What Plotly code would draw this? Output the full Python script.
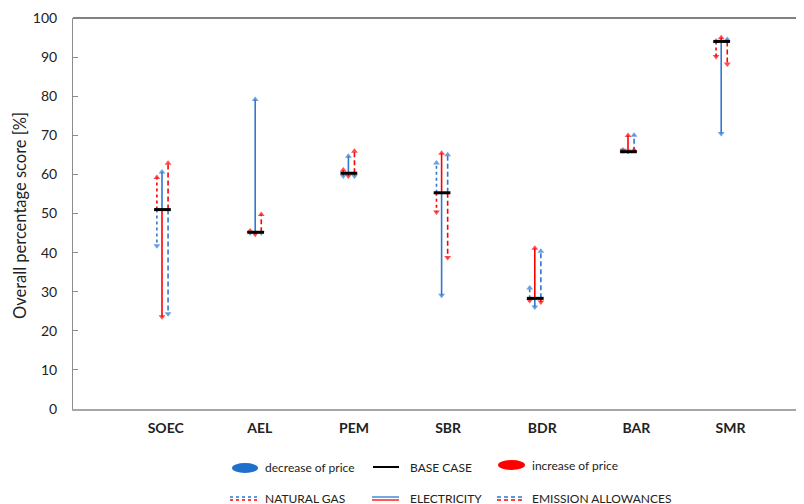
import plotly.graph_objects as go

# ---------------- data ----------------
categories = ["SOEC", "AEL", "PEM", "SBR", "BDR", "BAR", "SMR"]
label_x = [1.04, 2.05, 3.06, 4.07, 5.08, 6.09, 7.10]   # category label positions
base_case = [51.0, 45.2, 60.3, 55.3, 28.3, 65.8, 94.0]

# natural gas (dotted)
gas_increase = [60.0, 46.3, 61.9, 49.6, 27.0, 65.4, 89.4]
gas_decrease = [41.0, 44.3, 58.8, 63.7, 31.7, 67.0, 94.9]
# electricity (solid)
elec_increase = [22.8, 43.9, 58.8, 66.2, 41.9, 70.7, 95.7]
elec_decrease = [61.4, 79.9, 65.4, 28.3, 25.3, 65.3, 69.7]
# emission allowances (dashed)
ems_increase = [63.6, 50.5, 66.7, 38.0, 26.6, 67.0, 87.5]
ems_decrease = [23.6, 44.3, 58.8, 65.8, 41.1, 70.8, 95.3]

y_ticks = [0, 10, 20, 30, 40, 50, 60, 70, 80, 90, 100]

# ---------------- layout constants ----------------
OFF = 8  # page body margin in the browser
W, H = 804 - OFF, 504 - OFF
ML, MR, MT, MB = 73 - OFF, 0, 18 - OFF, 95
PW, PH = W - ML - MR, H - MT - MB
BLUE = "#2E78D2"
RED = "#FF0000"
FONT = "Lato"

xpos = list(range(1, len(categories) + 1))

fig = go.Figure()

params = [
    ("dot", -0.055, gas_increase, gas_decrease),
    ("solid", 0.0, elec_increase, elec_decrease),
    ("5px,3px", 0.065, ems_increase, ems_decrease),
]

for dash, off, inc, dec in params:
    for vals, color in ((dec, BLUE), (inc, RED)):
        for c, b, v in zip(xpos, base_case, vals):
            fig.add_trace(go.Scatter(
                x=[c + off, c + off], y=[b, v],
                mode="lines+markers",
                line=dict(color=color, width=1.6, dash=dash),
                marker=dict(symbol="triangle-up", size=[0, 6], color=color,
                            angleref="previous", standoff=3, line=dict(width=0)),
                hoverinfo="skip", showlegend=False,
            ))

# base case lines
bx, by = [], []
for c, b in zip(xpos, base_case):
    bx += [c - 0.085, c + 0.095, None]
    by += [b, b, None]
fig.add_trace(go.Scatter(x=bx, y=by, mode="lines",
                         line=dict(color="black", width=3),
                         hoverinfo="skip", showlegend=False))

# ---------------- axes ----------------
x0 = 1 - (162 - 73) / 93.2
x1 = 1 + (804 - 162) / 93.2
fig.update_xaxes(range=[x0, x1], tickvals=label_x, ticktext=categories,
                 showgrid=False, zeroline=False, showline=True,
                 linecolor="#A6A6A6", linewidth=1.5, ticks="",
                 ticklabelstandoff=5,
                 tickfont=dict(family=FONT, size=14, color="#222", weight="bold"))
fig.update_yaxes(range=[0, 100], tickvals=y_ticks, showgrid=False,
                 zeroline=False, showline=True, linecolor="#8C8C8C",
                 linewidth=1, ticks="inside", ticklen=5, tickcolor="#8C8C8C",
                 ticklabelstandoff=12,
                 tickfont=dict(family=FONT, size=14, color="#222"))


def px2x(px):
    return (px - OFF - ML) / PW


def py2y(py):
    return (MT + PH - (py - OFF)) / PH


shapes = []
# top border
shapes.append(dict(type="line", xref="paper", yref="paper", x0=0, x1=1, y0=1, y1=1,
                   line=dict(color="#595959", width=1.5)))

# legend row 1
shapes.append(dict(type="circle", xref="paper", yref="paper",
                   x0=px2x(232), x1=px2x(258), y0=py2y(473), y1=py2y(463),
                   fillcolor="#1F6FCC", line=dict(width=0)))
shapes.append(dict(type="line", xref="paper", yref="paper",
                   x0=px2x(373), x1=px2x(399), y0=py2y(467), y1=py2y(467),
                   line=dict(color="black", width=2)))
shapes.append(dict(type="circle", xref="paper", yref="paper",
                   x0=px2x(498), x1=px2x(525), y0=py2y(470), y1=py2y(460),
                   fillcolor="#FF0000", line=dict(width=0)))
# legend row 2 (double lines)
for (xa, xb, dsh) in ((230, 257, "dot"), (372, 399, "solid"), (497, 523, "4px,3px")):
    shapes.append(dict(type="line", xref="paper", yref="paper",
                       x0=px2x(xa), x1=px2x(xb), y0=py2y(497), y1=py2y(497),
                       line=dict(color=BLUE, width=1.3, dash=dsh)))
    shapes.append(dict(type="line", xref="paper", yref="paper",
                       x0=px2x(xa), x1=px2x(xb), y0=py2y(500), y1=py2y(500),
                       line=dict(color=RED, width=1.3, dash=dsh)))

annotations = []
for txt, px, py in (("decrease of price", 263, 467), ("BASE CASE", 408, 467),
                    ("increase of price", 530, 465), ("NATURAL GAS", 263, 498),
                    ("ELECTRICITY", 408, 498), ("EMISSION ALLOWANCES", 530, 498)):
    annotations.append(dict(text=txt, xref="paper", yref="paper", x=px2x(px), y=py2y(py),
                            xanchor="left", yanchor="middle", showarrow=False,
                            font=dict(family=FONT, size=12, color="#222")))
annotations.append(dict(text="Overall percentage score [%]", xref="paper", yref="paper",
                        x=px2x(20), y=py2y(216), xanchor="center", yanchor="middle",
                        textangle=-90, showarrow=False,
                        font=dict(family=FONT, size=16.5, color="#222")))

fig.update_layout(width=W, height=H, margin=dict(l=ML, r=MR, t=MT, b=MB),
                  plot_bgcolor="white", paper_bgcolor="white",
                  shapes=shapes, annotations=annotations, showlegend=False)

fig.write_html("out.html")
